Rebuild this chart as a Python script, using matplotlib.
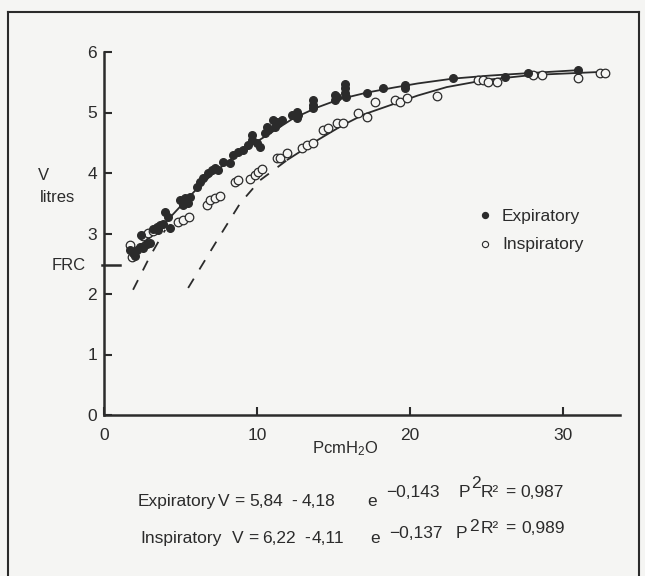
import matplotlib
matplotlib.use("Agg")
import matplotlib.pyplot as plt
from matplotlib.lines import Line2D

plt.rcParams['font.family'] = ['Liberation Sans', 'DejaVu Sans']
plt.rcParams['mathtext.default'] = 'regular'

ink = '#2b2b2b'
paper = '#f5f5f3'

# pontos expiratórios (P em cmH2O, V em litros)
exp_p = [1.70, 1.90, 2.16, 2.35, 2.55, 2.81, 3.01, 2.03, 2.42, 3.20, 3.46, 3.66, 3.86, 3.53,
         3.99, 4.18, 4.31, 4.97, 5.29, 5.62, 5.16, 5.49, 6.08, 6.27, 6.47, 6.80, 7.06, 7.25,
         7.45, 7.78, 8.24, 8.43, 8.76, 9.08, 9.41, 9.67, 9.67, 10.00, 10.20, 10.52, 10.72,
         10.65, 11.18, 11.37, 11.05, 11.31, 11.63, 12.29, 12.61, 12.68, 12.61, 13.66, 13.66,
         13.66, 15.10, 15.10, 15.23, 15.75, 15.75, 15.82, 15.75, 17.19, 18.24, 19.67, 19.67,
         22.81, 26.21, 27.71, 30.98]
exp_v = [2.73, 2.68, 2.73, 2.78, 2.76, 2.83, 2.84, 2.63, 2.98, 3.07, 3.11, 3.14, 3.16, 3.06,
         3.36, 3.27, 3.09, 3.55, 3.59, 3.60, 3.47, 3.50, 3.77, 3.85, 3.92, 4.00, 4.05, 4.08,
         4.05, 4.18, 4.17, 4.30, 4.35, 4.38, 4.46, 4.55, 4.63, 4.50, 4.43, 4.66, 4.71,
         4.76, 4.76, 4.83, 4.88, 4.84, 4.88, 4.96, 5.01, 4.96, 4.91, 5.21, 5.12,
         5.07, 5.29, 5.21, 5.26, 5.40, 5.32, 5.26, 5.47, 5.32, 5.40, 5.45, 5.40,
         5.57, 5.59, 5.65, 5.70]

# pontos inspiratórios
ins_p = [1.70, 1.83, 2.55, 2.88, 3.20, 4.84, 5.16, 5.56, 6.73, 6.93, 7.25, 7.58, 8.56, 8.76,
         9.54, 9.87, 10.07, 10.33, 11.31, 11.50, 11.96, 12.94, 13.27, 13.66, 14.31, 14.64,
         15.23, 15.62, 16.60, 17.19, 17.71, 19.02, 19.35, 19.80, 21.76, 24.44, 24.77, 25.10,
         25.69, 28.04, 28.63, 30.98, 32.42, 32.75]
ins_v = [2.81, 2.61, 2.96, 3.01, 3.04, 3.19, 3.22, 3.27, 3.47, 3.55, 3.59, 3.62, 3.85, 3.88,
         3.90, 3.97, 4.02, 4.07, 4.25, 4.25, 4.33, 4.41, 4.46, 4.50, 4.71, 4.74,
         4.83, 4.83, 4.99, 4.93, 5.17, 5.21, 5.17, 5.24, 5.27, 5.54, 5.54, 5.50,
         5.50, 5.62, 5.62, 5.57, 5.65, 5.65]

# curvas ajustadas
exp_curve_p = [1.7, 3.0, 4.0, 5.0, 6.0, 7.0, 8.0, 9.0, 10.0, 11.0, 12.35, 13.9, 15.4, 17.2,
               18.9, 20.5, 22.8, 25.2, 27.7, 31.0]
exp_curve_v = [2.68, 2.93, 3.18, 3.45, 3.72, 3.96, 4.17, 4.36, 4.52, 4.68, 4.90, 5.08, 5.22,
               5.33, 5.41, 5.48, 5.56, 5.61, 5.65, 5.70]
ins_curve_p = [12.0, 12.8, 14.0, 15.6, 17.0, 18.7, 20.5, 22.4, 25.0, 28.0, 32.4]
ins_curve_v = [4.22, 4.35, 4.55, 4.79, 4.97, 5.12, 5.28, 5.42, 5.54, 5.62, 5.67]
ins_dash_p = [5.5, 7.4, 8.9, 10.2, 12.0]
ins_dash_v = [2.10, 2.89, 3.50, 3.88, 4.22]
exp_dash_p = [1.9, 3.0, 4.0]
exp_dash_v = [2.07, 2.62, 3.06]

frc = 2.48
x_ticks = [0, 10, 20, 30]
y_ticks = [0, 1, 2, 3, 4, 5, 6]

# equações: (texto, x em px, linha de base em px)
eq_exp = [('Expiratory', 138, 506), ('V', 218, 506), ('=', 234, 506), ('5,84', 249, 506),
          ('-', 291, 506), ('4,18', 302, 506), ('e', 367, 506), ('\u22120,143', 386, 497),
          ('P', 459, 497), ('2', 471, 488), ('R\u00b2', 481, 497), ('=', 505, 497),
          ('0,987', 520, 497)]
eq_ins = [('Inspiratory', 140, 543), ('V', 232, 543), ('=', 248, 543), ('6,22', 262, 543),
          ('-', 304, 543), ('4,11', 312, 543), ('e', 370, 543), ('\u22120,137', 389, 538),
          ('P', 456, 538), ('2', 469, 531), ('R\u00b2', 481, 533), ('=', 505, 533),
          ('0,989', 521, 533)]

W, H = 645, 576
fig = plt.figure(figsize=(W / 100, H / 100), dpi=100, facecolor=paper)


def fx(x):
    return x / W


def fy(y):
    return 1 - y / H


ax = fig.add_axes([fx(104), fy(415), (620 - 104) / W, (415 - 52) / H])
ax.set_facecolor(paper)
ax.set_xlim(0, 516 / 15.3)
ax.set_ylim(0, 6)

ax.plot(exp_curve_p, exp_curve_v, color=ink, lw=1.3, zorder=2)
ax.plot(ins_curve_p, ins_curve_v, color=ink, lw=1.3, zorder=2)
ax.plot(ins_dash_p, ins_dash_v, color=ink, lw=1.3, dashes=(6, 6), zorder=2)
ax.plot(exp_dash_p, exp_dash_v, color=ink, lw=1.3, dashes=(6, 6), zorder=2)

ax.scatter(ins_p, ins_v, s=38, facecolors=paper, edgecolors=ink, linewidths=0.9, zorder=3)
ax.scatter(exp_p, exp_v, s=30, color=ink, zorder=4)

for s in ['top', 'right']:
    ax.spines[s].set_visible(False)
for s in ['left', 'bottom']:
    ax.spines[s].set_color(ink)
    ax.spines[s].set_linewidth(1.8)

ax.set_xticks(x_ticks)
ax.set_yticks(y_ticks)
ax.tick_params(axis='both', direction='in', length=6, width=1.5, color=ink,
               labelcolor=ink, labelsize=12.5)
ax.tick_params(axis='x', pad=9)
ax.tick_params(axis='y', pad=5)

# FRC
ax.plot([-0.13, 1.05], [frc, frc], color=ink, lw=1.8, clip_on=False)
fig.text(fx(52), fy(266), 'FRC', fontsize=12, color=ink, va='center', ha='left')

# legenda
ax.scatter([24.9], [3.31], s=18, color=ink, clip_on=False)
ax.scatter([24.9], [2.83], s=20, facecolors=paper, edgecolors=ink, linewidths=0.8)
fig.text(fx(502), fy(217), 'Expiratory', fontsize=12.5, color=ink, va='center')
fig.text(fx(502), fy(245), 'Inspiratory', fontsize=12.5, color=ink, va='center')

# eixos
fig.text(fx(38), fy(176), 'V', fontsize=12, color=ink, va='center')
fig.text(fx(40), fy(198), 'litres', fontsize=12, color=ink, va='center')
fig.text(fx(345), fy(449), 'PcmH$_2$O', fontsize=12, color=ink, va='center', ha='center')

# equações
for txt, x, y in eq_exp + eq_ins:
    fig.text(fx(x), fy(y), txt, fontsize=12.5, color=ink, va='baseline', ha='left')

# moldura
frame = dict(color=ink, lw=1.5, transform=fig.transFigure)
fig.add_artist(Line2D([fx(8), fx(8)], [fy(12), fy(576)], **frame))
fig.add_artist(Line2D([fx(8), fx(639)], [fy(12), fy(12)], **frame))
fig.add_artist(Line2D([fx(639), fx(639)], [fy(12), fy(576)], **frame))

fig.savefig('out.png', dpi=100, facecolor=paper)
